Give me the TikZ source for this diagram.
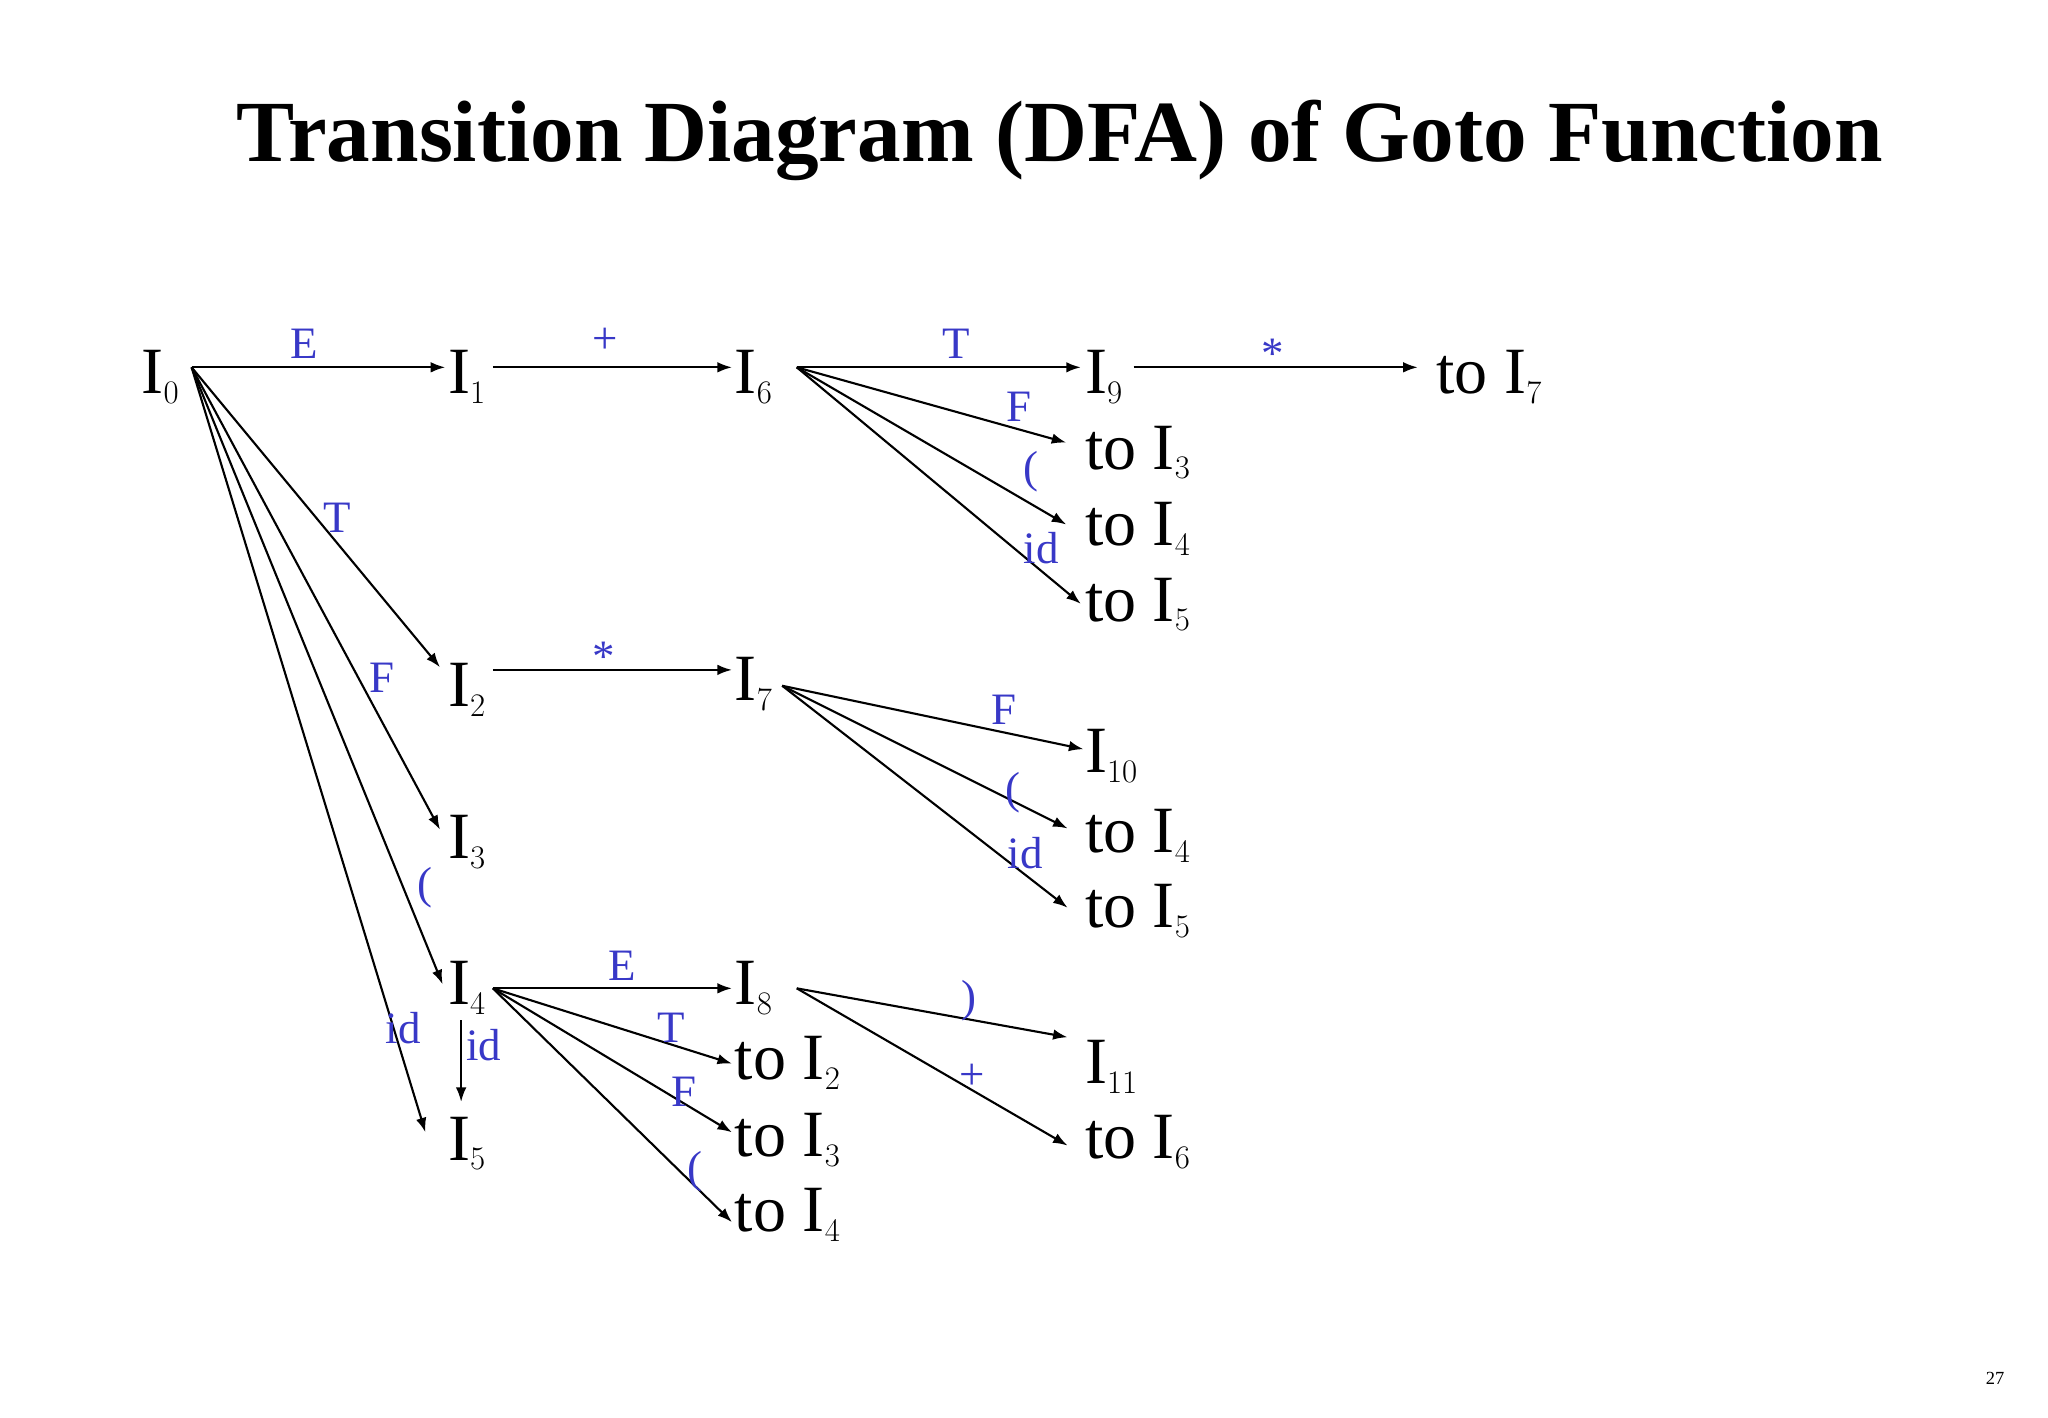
\documentclass[tikz,border=0pt]{standalone}
\usepackage{fontspec}
\setmainfont{Liberation Serif}
\usetikzlibrary{arrows.meta}
\definecolor{lblue}{rgb}{0.22,0.22,0.78}
\tikzset{
  st/.style={anchor=base west,inner sep=1pt,font=\fontsize{50}{56}\selectfont},
  lb/.style={text=lblue,inner sep=0pt,font=\fontsize{34}{38}\selectfont},
  arr/.style={-{Latex[length=11pt,width=8pt]},line width=1.6pt}}
\begin{document}
\begin{tikzpicture}[x=1pt,y=-1pt]
\useasboundingbox (0,0) rectangle (1550,1073);
\node[anchor=base,font=\fontsize{66}{72}\selectfont\bfseries] (title) at (802,122) {Transition Diagram (DFA) of Goto Function};
\node[font=\fontsize{14}{16}\selectfont] (pg) at (1510,1043) {27};
\node[st] (I0) at (106,298) {I$_0$};
\node[st] (I1) at (338,298) {I$_1$};
\node[st] (I6) at (555,298) {I$_6$};
\node[st] (I9) at (820,298) {I$_9$};
\node[st] (tI7) at (1086,298) {to I$_7$};
\node[st] (tI3a) at (820,355) {to I$_3$};
\node[st] (tI4a) at (820,413) {to I$_4$};
\node[st] (tI5a) at (820,470) {to I$_5$};
\node[st] (I2) at (338,535) {I$_2$};
\node[st] (I7) at (555,530) {I$_7$};
\node[st] (I10) at (820,585) {I$_{10}$};
\node[st] (tI4b) at (820,645) {to I$_4$};
\node[st] (tI5b) at (820,702) {to I$_5$};
\node[st] (I3) at (338,650) {I$_3$};
\node[st] (I4) at (338,760) {I$_4$};
\node[st] (I8) at (555,760) {I$_8$};
\node[st] (tI2c) at (555,817) {to I$_2$};
\node[st] (tI3c) at (555,875) {to I$_3$};
\node[st] (tI4c) at (555,932) {to I$_4$};
\node[st] (I11) at (820,820) {I$_{11}$};
\node[st] (tI6) at (820,877) {to I$_6$};
\node[st] (I5) at (338,878) {I$_5$};
\coordinate (s0) at (145,278);
\coordinate (s1) at (373,278);
\coordinate (s6) at (603,278);
\coordinate (s9) at (858,278);
\coordinate (s2) at (373,507);
\coordinate (s7) at (592,519);
\coordinate (s4) at (373,748);
\coordinate (s8) at (603,748);
\coordinate (s45) at (349,772);
\draw[arr] (s0) -- (337,278);
\draw[arr] (s0) -- (333,505);
\draw[arr] (s0) -- (333,628);
\draw[arr] (s0) -- (335,745);
\draw[arr] (s0) -- (322,857);
\draw[arr] (s1) -- (554,278);
\draw[arr] (s6) -- (818,278);
\draw[arr] (s9) -- (1073,278);
\draw[arr] (s6) -- (807,335);
\draw[arr] (s6) -- (807,397);
\draw[arr] (s6) -- (818,457);
\draw[arr] (s2) -- (554,507);
\draw[arr] (s7) -- (820,567);
\draw[arr] (s7) -- (808,627);
\draw[arr] (s7) -- (808,687);
\draw[arr] (s4) -- (554,748);
\draw[arr] (s4) -- (554,805);
\draw[arr] (s4) -- (554,857);
\draw[arr] (s4) -- (554,925);
\draw[arr] (s45) -- (349,834);
\draw[arr] (s8) -- (808,785);
\draw[arr] (s8) -- (808,867);
\node[lb] (l1) at (230,260) {E};
\node[lb] (l2) at (458,258) {+};
\node[lb] (l3) at (724,260) {T};
\node[lb] (l4) at (963,268) {*};
\node[lb] (l5) at (771,308) {F};
\node[lb] (l6) at (780,357) {(};
\node[lb] (l7) at (788,415) {id};
\node[lb] (l8) at (255,392) {T};
\node[lb] (l9) at (289,513) {F};
\node[lb] (l10) at (457,497) {*};
\node[lb] (l11) at (760,537) {F};
\node[lb] (l12) at (767,600) {(};
\node[lb] (l13) at (776,646) {id};
\node[lb] (l14) at (322,672) {(};
\node[lb] (l15) at (471,731) {E};
\node[lb] (l16) at (508,778) {T};
\node[lb] (l17) at (518,826) {F};
\node[lb] (l18) at (526,887) {(};
\node[lb] (l19) at (305,778) {id};
\node[lb] (l20) at (366,791) {id};
\node[lb] (l21) at (733,757) {)};
\node[lb] (l22) at (736,815) {+};
\end{tikzpicture}
\end{document}
